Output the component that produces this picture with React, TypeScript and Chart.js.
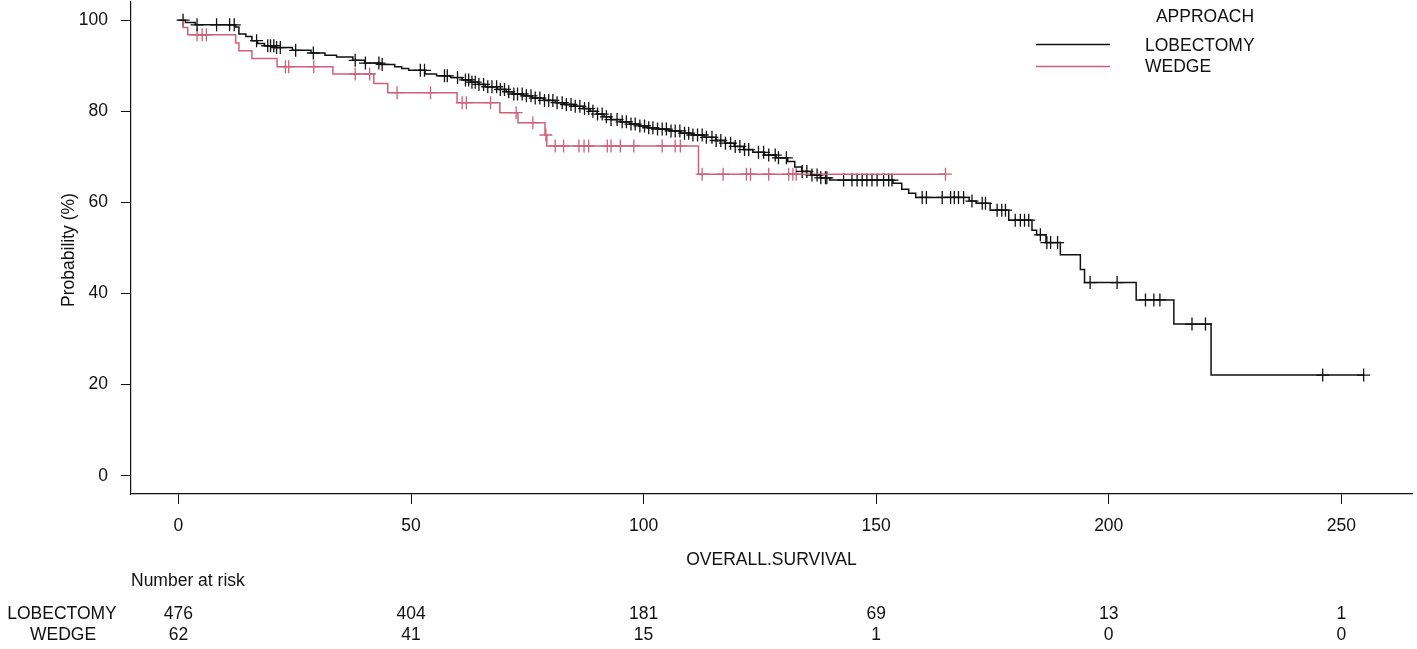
import { useEffect, useRef } from 'react'
import { Chart, registerables } from 'chart.js'

Chart.register(...registerables)

// Kaplan-Meier step points (time, survival %)
const lobTimes = [0, 1.5, 3.6, 12.3, 13.0, 14.5, 15.8, 17.0, 18.5, 21, 24.5, 28.5, 31.5, 34, 37.5, 40, 43.5, 46.5, 48, 49.5, 53, 55.5, 58.5, 61, 63, 64.5, 66, 68.5, 70.5, 72, 74, 76, 78.5, 81, 83, 85, 87, 88.5, 90, 91.5, 93, 95, 97, 99, 101, 103, 105.5, 108, 110.5, 113, 115.5, 117.5, 119.5, 121.5, 123.5, 126, 128.5, 131, 132.5, 134, 136, 138, 140, 153.6, 155.5, 157, 158.5, 170, 171.5, 174.5, 178.5, 183.5, 184.5, 186.5, 189.6, 193.9, 194.8, 205.9, 214.0, 222.0, 255]
const lobSurv = [100, 99.5, 99.0, 98.5, 97.0, 96.4, 95.5, 94.9, 94.4, 94.0, 93.4, 92.8, 92.3, 91.9, 91.2, 90.6, 90.3, 89.8, 89.4, 89.0, 88.2, 87.8, 87.4, 86.9, 86.4, 85.9, 85.4, 84.8, 84.3, 83.8, 83.4, 82.9, 82.4, 81.9, 81.5, 81.1, 80.6, 80.0, 79.4, 78.8, 78.2, 77.7, 77.2, 76.8, 76.4, 76.1, 75.7, 75.2, 74.8, 74.3, 73.6, 73.0, 72.3, 71.6, 71.0, 70.4, 69.8, 69.0, 67.8, 66.8, 66.0, 65.4, 64.9, 64.2, 62.9, 62.0, 61.1, 60.3, 59.8, 58.3, 56.1, 53.9, 52.9, 51.2, 48.5, 45.3, 42.4, 38.6, 33.3, 22.1, 22.1]
const lobCensor = [1.0, 4.0, 8.2, 11.0, 12.0, 16.8, 19.2, 19.8, 20.5, 21.1, 21.9, 25.2, 29.0, 38.0, 40.2, 43.1, 43.8, 52.0, 52.9, 57.2, 57.8, 60.0, 61.7, 62.4, 63.1, 63.8, 64.6, 65.6, 66.5, 67.4, 68.4, 69.2, 70.1, 71.0, 72.1, 72.9, 73.9, 74.8, 75.8, 76.7, 77.7, 78.7, 79.6, 80.5, 81.4, 82.5, 83.4, 84.4, 85.3, 86.3, 87.3, 88.2, 89.1, 90.1, 91.1, 92.0, 93.0, 94.3, 95.4, 96.3, 97.3, 98.2, 99.2, 100.2, 101.1, 102.0, 103.0, 104.0, 104.9, 105.9, 106.8, 107.8, 108.8, 109.7, 110.6, 111.6, 112.6, 113.5, 114.7, 115.6, 116.6, 117.6, 118.7, 119.7, 120.7, 121.7, 122.6, 124.7, 125.8, 126.9, 128.3, 129.0, 130.7, 134.1, 135.1, 136.2, 137.3, 138.1, 139.1, 139.4, 143.0, 144.8, 145.9, 147.0, 148.0, 149.1, 150.2, 151.6, 152.7, 153.4, 159.9, 160.8, 164.2, 166.0, 166.8, 167.7, 168.8, 170.6, 172.8, 173.5, 176.0, 177.0, 177.8, 179.9, 181.0, 181.9, 182.8, 185.3, 186.7, 187.5, 189.0, 196.0, 201.8, 207.9, 209.7, 211.0, 217.9, 220.8, 246.0, 254.8]

const wedgeTimes = [0, 1.0, 2.0, 12.3, 13.0, 15.8, 21.2, 33.2, 42.0, 45.0, 59.9, 69.1, 73.0, 78.8, 79.2, 111.8, 164.9]
const wedgeSurv = [100, 98.4, 96.8, 95.0, 93.3, 91.6, 89.8, 88.2, 86.1, 84.1, 81.9, 79.7, 77.5, 74.8, 72.4, 66.2, 66.2]
const wedgeCensor = [4.0, 5.1, 6.0, 23.0, 23.7, 29.1, 38.0, 41.1, 47.0, 54.2, 61.0, 61.9, 67.1, 72.6, 76.2, 79.0, 81.0, 82.8, 86.1, 87.2, 88.2, 92.2, 93.0, 95.0, 97.9, 104.0, 106.8, 107.9, 112.6, 117.1, 122.1, 123.0, 126.9, 131.2, 132.1, 132.8, 164.9]

const groups = ['LOBECTOMY', 'WEDGE']
const xTicks = [0, 50, 100, 150, 200, 250]
const yTicks = [0, 20, 40, 60, 80, 100]
const lobRisk = [476, 404, 181, 69, 13, 1]
const wedgeRisk = [62, 41, 15, 1, 0, 0]

const BLACK = '#111111'
const RED = '#d0607a'
const FONT = '"Liberation Sans", Arial, sans-serif'

const survAt = (times: number[], surv: number[], t: number) => {
  let s = surv[0]
  for (let i = 0; i < times.length; i++) if (times[i] <= t) s = surv[i]
  return s
}

const textPlugin = {
  id: 'kmText',
  afterDraw(chart: any) {
    const { ctx, scales } = chart
    const x = scales.x
    ctx.save()
    ctx.fillStyle = BLACK
    ctx.font = `17.5px ${FONT}`
    ctx.textBaseline = 'middle'

    // axis titles
    ctx.textAlign = 'center'
    ctx.fillText('OVERALL.SURVIVAL', (chart.chartArea.left + chart.chartArea.right) / 2, 560)
    ctx.save()
    ctx.translate(69, 250)
    ctx.rotate(-Math.PI / 2)
    ctx.fillText('Probability (%)', 0, 0)
    ctx.restore()

    // legend
    ctx.fillText('APPROACH', 1205, 17)
    ctx.textAlign = 'left'
    ctx.fillText(groups[0], 1145, 46)
    ctx.fillText(groups[1], 1145, 67)
    ctx.lineWidth = 1.5
    ctx.strokeStyle = BLACK
    ctx.beginPath(); ctx.moveTo(1036, 44.5); ctx.lineTo(1110, 44.5); ctx.stroke()
    ctx.strokeStyle = RED
    ctx.beginPath(); ctx.moveTo(1036, 66.5); ctx.lineTo(1110, 66.5); ctx.stroke()

    // number at risk
    ctx.fillText('Number at risk', 131, 581)
    ctx.textAlign = 'center'
    ctx.fillText(groups[0], 62, 614)
    ctx.fillText(groups[1], 63, 635)
    xTicks.forEach((t, i) => {
      const px = x.getPixelForValue(t)
      ctx.fillText(String(lobRisk[i]), px, 614)
      ctx.fillText(String(wedgeRisk[i]), px, 635)
    })
    ctx.restore()
  },
}

export default function App() {
  const canvasRef = useRef<HTMLCanvasElement | null>(null)

  useEffect(() => {
    document.body.style.margin = '0'
    if (!canvasRef.current) return
    const chart = new Chart(canvasRef.current, {
      type: 'line',
      data: {
        datasets: [
          {
            label: groups[0],
            data: lobTimes.map((t, i) => ({ x: t, y: lobSurv[i] })),
            borderColor: BLACK,
            borderWidth: 1.5,
            stepped: true,
            pointRadius: 0,
            fill: false,
          },
          {
            label: groups[1],
            data: wedgeTimes.map((t, i) => ({ x: t, y: wedgeSurv[i] })),
            borderColor: RED,
            borderWidth: 1.5,
            stepped: true,
            pointRadius: 0,
            fill: false,
          },
          {
            label: 'lob censored',
            data: lobCensor.map((t) => ({ x: t, y: survAt(lobTimes, lobSurv, t) })),
            showLine: false,
            pointStyle: 'cross',
            pointRadius: 6.5,
            borderColor: BLACK,
            pointBorderWidth: 1.3,
          },
          {
            label: 'wedge censored',
            data: wedgeCensor.map((t) => ({ x: t, y: survAt(wedgeTimes, wedgeSurv, t) })),
            showLine: false,
            pointStyle: 'cross',
            pointRadius: 6.5,
            borderColor: RED,
            pointBorderWidth: 1.3,
          },
        ],
      },
      options: {
        animation: false,
        responsive: true,
        maintainAspectRatio: false,
        layout: { autoPadding: false, padding: { top: 2, right: 5, left: 0, bottom: 0 } },
        plugins: { legend: { display: false }, tooltip: { enabled: false } },
        scales: {
          x: {
            type: 'linear',
            min: -10.2,
            max: 265.2,
            afterBuildTicks: (s: any) => { s.ticks = xTicks.map((v) => ({ value: v })) },
            afterFit: (s: any) => {
              s.height = 155
              s.paddingLeft = 0
              s.paddingRight = 0
            },
            grid: { display: true, drawOnChartArea: false, drawTicks: true, tickLength: 10, color: BLACK },
            border: { display: true, color: BLACK, width: 1.2 },
            ticks: { color: BLACK, padding: 12, font: { size: 17.5, family: FONT }, maxRotation: 0 },
          },
          y: {
            type: 'linear',
            min: -4,
            max: 104,
            afterBuildTicks: (s: any) => { s.ticks = yTicks.map((v) => ({ value: v })) },
            afterFit: (s: any) => {
              s.width = 131
              s.paddingTop = 0
              s.paddingBottom = 0
            },
            grid: { display: true, drawOnChartArea: false, drawTicks: true, tickLength: 10, color: BLACK },
            border: { display: true, color: BLACK, width: 1.2 },
            ticks: { color: BLACK, padding: 13, font: { size: 17.5, family: FONT } },
          },
        },
      },
      plugins: [textPlugin],
    })
    return () => chart.destroy()
  }, [])

  return (
    <div style={{ position: 'relative', width: 1417, height: 649 }}>
      <canvas ref={canvasRef} />
    </div>
  )
}
